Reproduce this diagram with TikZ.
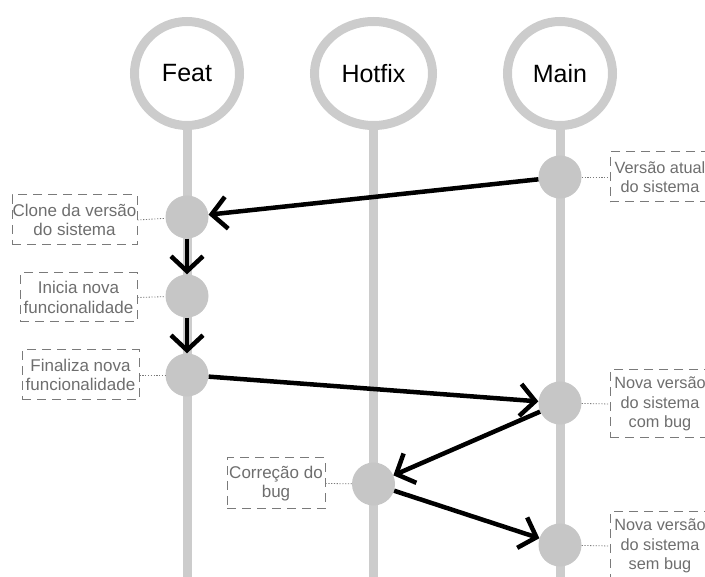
\documentclass[tikz,border=0pt]{standalone}
\usepackage{fontspec}
\setmainfont{Liberation Sans}
\usetikzlibrary{arrows.meta,shapes.geometric}
\definecolor{rail}{HTML}{CCCCCC}
\definecolor{commitc}{HTML}{C6C6C6}
\definecolor{labeltxt}{HTML}{6E6E6E}
\definecolor{dashc}{HTML}{7A7A7A}
\tikzset{
  header/.style={draw=rail, line width=9pt, ellipse, minimum height=104pt, inner sep=0pt, font=\fontsize{25}{29}\selectfont, text=black},
  railline/.style={draw=rail, line width=9pt},
  commit/.style={circle, fill=commitc, minimum size=43pt, inner sep=0pt},
  arr/.style={line width=4.5pt, -{Straight Barb[length=15pt,width=32pt,line width=4.5pt]}},
  note/.style={draw=dashc, dash pattern=on 9pt off 6pt, line width=1pt, align=center, inner sep=0pt, text=labeltxt, font=\fontsize{17}{19.5}\selectfont},
  rnote/.style={note, font=\fontsize{16.3}{19.5}\selectfont},
  link/.style={draw=dashc, line width=0.8pt, dash pattern=on 1.2pt off 1.6pt}
}
\begin{document}
\begin{tikzpicture}[x=1pt,y=-1pt]
\useasboundingbox (0,0) rectangle (705,577);
\clip (0,0) rectangle (705,577);
% rails
\coordinate (fb) at (187,590);
\coordinate (hb) at (373.5,590);
\coordinate (mb) at (560,590);
\node[header, minimum width=105pt] (feat) at (187,73.5) {Feat};
\node[header, minimum width=118pt] (hot) at (373.5,73.5) {Hotfix};
\node[header, minimum width=105pt] (main) at (560,73.5) {Main};
\draw[railline] (feat.south) -- (fb);
\draw[railline] (hot.south) -- (hb);
\draw[railline] (main.south) -- (mb);
% commits
\node[commit] (m1) at (560,177) {};
\node[commit] (f1) at (187,217) {};
\node[commit] (f2) at (187,296) {};
\node[commit] (f3) at (187,375) {};
\node[commit] (m2) at (560,403) {};
\node[commit] (h1) at (373.5,484) {};
\node[commit] (m3) at (560,545) {};
% notes
\node[note, minimum width=125pt, minimum height=50pt] (n1) at (74.5,220) {Clone da versão\\do sistema};
\node[note, minimum width=117pt, minimum height=49pt] (n2) at (78.5,297.5) {Inicia nova\\funcionalidade};
\node[note, minimum width=117pt, minimum height=50pt] (n3) at (80.5,375) {Finaliza nova\\funcionalidade};
\node[rnote, minimum width=100pt, minimum height=50pt] (n4) at (660,177) {\makebox[94pt]{Versão atual}\\\makebox[94pt]{do sistema}};
\node[rnote, minimum width=100pt, minimum height=68pt] (n5) at (660,404) {\makebox[94pt]{Nova versão}\\\makebox[94pt]{do sistema}\\\makebox[94pt]{com bug}};
\node[note, minimum width=98pt, minimum height=51pt] (n6) at (276,483.5) {Correção do\\bug};
\node[rnote, minimum width=100pt, minimum height=68pt] (n7) at (660,546) {\makebox[94pt]{Nova versão}\\\makebox[94pt]{do sistema}\\\makebox[94pt]{sem bug}};
% links
\draw[link] (n1.east) -- (f1);
\draw[link] (n2.east) -- (f2);
\draw[link] (n3.east) -- (f3);
\draw[link] (m1) -- (n4.west);
\draw[link] (m2) -- (n5.west);
\draw[link] (n6.east) -- (h1);
\draw[link] (m3) -- (n7.west);
% arrows
\draw[arr] (m1) -- (f1);
\draw[arr] (f1) -- (f2);
\draw[arr] (f2) -- (f3);
\draw[arr] (f3) -- (m2);
\draw[arr] (m2) -- (h1);
\draw[arr] (h1) -- (m3);
\end{tikzpicture}
\end{document}
